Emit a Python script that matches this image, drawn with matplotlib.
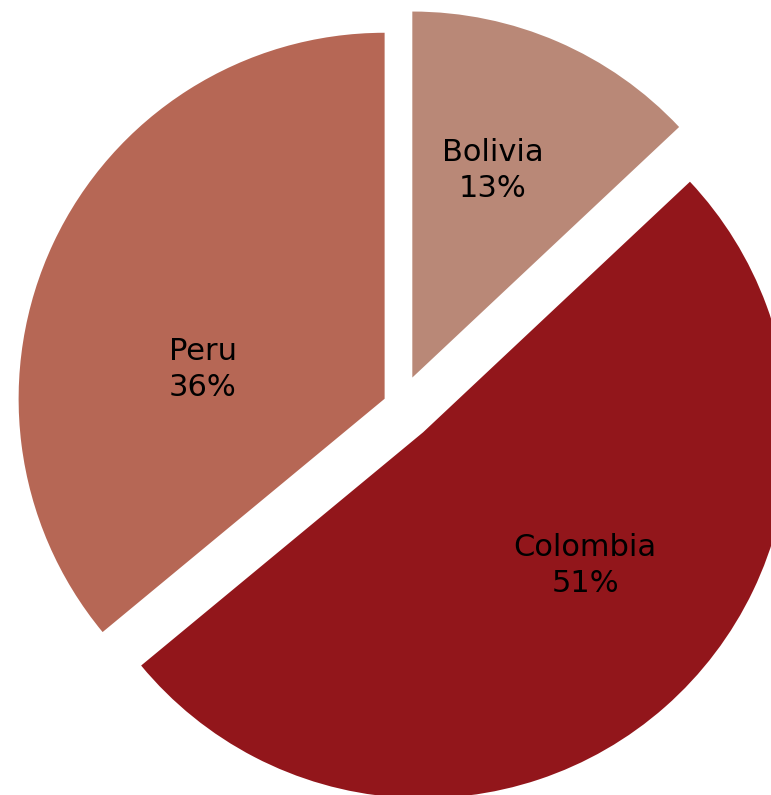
import matplotlib.pyplot as plt

countries = ["Bolivia", "Colombia", "Peru"]
shares = [13, 51, 36]
colors = ["#B98877", "#92161B", "#B66755"]
# pie explode offsets are in data units (pixels here)
explode = [31, 35, 17]

# label anchors in axes fraction (x, y)
label_pos = [(0.639, 0.785), (0.759, 0.289), (0.263, 0.535)]

fig = plt.figure(figsize=(7.71, 7.95), dpi=100)
ax = fig.add_axes([0, 0, 1, 1])

wedges, _ = ax.pie(shares, colors=colors, explode=explode,
                   startangle=90, counterclock=False,
                   center=(400, 389), radius=366,
                   wedgeprops=dict(linewidth=0))

for name, val, (x, y) in zip(countries, shares, label_pos):
    ax.text(x, y, f"{name}\n{val}%", transform=ax.transAxes,
            ha="center", va="center", fontsize=22, family="DejaVu Sans",
            linespacing=1.3, color="black")

ax.set_xlim(0, 771)
ax.set_ylim(0, 795)
ax.set_aspect("equal")
ax.axis("off")

fig.savefig("out.png", dpi=100)
